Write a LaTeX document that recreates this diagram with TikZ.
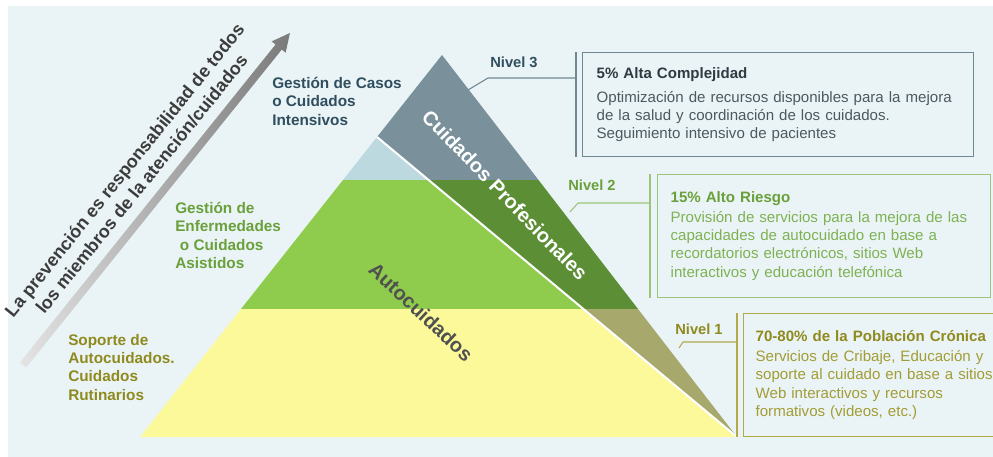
\documentclass[tikz,border=0pt]{standalone}
\usepackage{fontspec}
\setmainfont{Liberation Sans}
\usetikzlibrary{calc}

\definecolor{fondo}{HTML}{EAF4F7}
\definecolor{celeste}{HTML}{BCD9E0}
\definecolor{grisnivel}{HTML}{7A919B}
\definecolor{verdeclaro}{HTML}{8FCB4C}
\definecolor{verdeoscuro}{HTML}{5C8F35}
\definecolor{amarillo}{HTML}{FBF99A}
\definecolor{oliva}{HTML}{A7A86C}
\definecolor{tinta3}{HTML}{2E3B42}
\definecolor{texto3}{HTML}{4B5A60}
\definecolor{borde3}{HTML}{6E8791}
\definecolor{tinta2}{HTML}{6AA03A}
\definecolor{texto2}{HTML}{7FB152}
\definecolor{borde2}{HTML}{9CC47A}
\definecolor{tinta1}{HTML}{8F8A1E}
\definecolor{texto1}{HTML}{A29C34}
\definecolor{borde1}{HTML}{B0AA48}
\definecolor{casos}{HTML}{2F4E5E}
\definecolor{flechaclara}{HTML}{E4E4E4}
\definecolor{flechaoscura}{HTML}{7A7A7A}
\definecolor{lema}{HTML}{3C3C3C}

\begin{document}
\begin{tikzpicture}[
  x=0.75pt, y=-0.75pt,
  rotulo/.style={font=\bfseries\fontsize{11.5}{13.7}\selectfont, align=left, anchor=north west, inner sep=0pt},
  nivel/.style={font=\bfseries\fontsize{11}{13}\selectfont, inner sep=0pt},
  caja/.style={draw, line width=1pt, align=left, anchor=north west, inner ysep=0pt, font=\fontsize{11.3}{13.7}\selectfont},
  guia/.style={line width=0.8pt},
  barra/.style={line width=1.1pt}
]
  \useasboundingbox (0,0) rectangle (993,457);
  \fill[white] (0,0) rectangle (993,457);
  \fill[fondo] (8,6) rectangle (993,457);

  \coordinate (cima) at (442,55);
  \coordinate (izq) at (140,437);
  \coordinate (der) at (737,437);
  \coordinate (pico) at (377,137);
  \coordinate (a1) at (343,180);
  \coordinate (a2) at (428,180);
  \coordinate (a3) at (538.5,180);
  \coordinate (b1) at (241,309);
  \coordinate (b2) at (583,309);
  \coordinate (b3) at (638,309);

  \fill[celeste] (pico) -- (a1) -- (a2) -- cycle;
  \fill[grisnivel] (cima) -- (pico) -- (a2) -- (a3) -- cycle;
  \fill[verdeclaro] (a1) -- (b1) -- (b2) -- (a2) -- cycle;
  \fill[verdeoscuro] (a2) -- (b2) -- (b3) -- (a3) -- cycle;
  \fill[amarillo] (b1) -- (izq) -- (der) -- (b2) -- cycle;
  \fill[oliva] (b2) -- (der) -- (b3) -- cycle;
  \draw[white, line width=1.5pt] (pico) -- (der);

  \node[
    font=\bfseries\fontsize{15}{18}\selectfont,
    text=white,
    rotate=-46
  ] (profesionales) at (505,195) {Cuidados Profesionales};
  \node[
    font=\bfseries\fontsize{15}{18}\selectfont,
    text=lema!90,
    rotate=-43
  ] (autocuidados) at (421,312) {Autocuidados};

  \begin{scope}[shift={(23,365)}, rotate=51.2]
    \shade[
      left color=flechaclara,
      right color=flechaoscura
    ] (0,-4) -- (408,-4) -- (408,-9) -- (426,0) -- (408,9) -- (408,4) -- (0,4) -- cycle;
  \end{scope}
  \node[
    font=\bfseries\fontsize{13.5}{16.5}\selectfont,
    text=lema,
    align=center,
    rotate=51.2
  ] (lema) at (133,177) {La prevención es responsabilidad de todos\\los miembros de la atención/cuidados};

  \node[rotulo, text=casos] (casos) at (272,77) {Gestión de Casos\\o Cuidados\\Intensivos};
  \node[rotulo, text=tinta2] (enfermedades) at (175,202) {Gestión de\\Enfermedades\\\hspace{3.5pt}o Cuidados\\Asistidos};
  \node[rotulo, text=tinta1] (soporte) at (68,334) {Soporte de\\Autocuidados.\\Cuidados\\Rutinarios};

  \node[
    caja,
    draw=borde3,
    text=texto3,
    inner xsep=10.5pt,
    text width=272.25pt,
    minimum height=78pt
  ] (caja3) at (582,52) {{\color{tinta3}\bfseries 5\% Alta Complejidad}\\[4pt]
    Optimización de recursos disponibles para la mejora\\
    de la salud y coordinación de los cuidados.\\
    Seguimiento intensivo de pacientes};
  \node[
    caja,
    draw=borde2,
    text=texto2,
    inner xsep=9.75pt,
    text width=230.25pt,
    minimum height=92.25pt
  ] (caja2) at (657,174) {{\color{tinta2}\bfseries 15\% Alto Riesgo}\\[1pt]
    Provisión de servicios para la mejora de las\\
    capacidades de autocuidado en base a\\
    recordatorios electrónicos, sitios Web\\
    interactivos y educación telefónica};
  \node[
    caja,
    draw=borde1,
    text=texto1,
    inner xsep=9pt,
    text width=190pt,
    minimum height=92.25pt
  ] (caja1) at (743,313) {{\color{tinta1}\bfseries 70-80\% de la Población Crónica}\\[1pt]
    Servicios de Cribaje, Educación y\\
    soporte al cuidado en base a sitios\\
    Web interactivos y recursos\\
    formativos (videos, etc.)};

  \draw[barra, borde3] ($(caja3.north west)+(-6,0)$) -- ($(caja3.south west)+(-6,0)$);
  \draw[barra, borde2] ($(caja2.north west)+(-7,0)$) -- ($(caja2.south west)+(-7,0)$);
  \draw[barra, borde1] ($(caja1.north west)+(-6,0)$) -- ($(caja1.south west)+(-6,0)$);

  \node[nivel, text=casos] (n3) at (514,62) {Nivel 3};
  \node[nivel, text=tinta2] (n2) at (592,185) {Nivel 2};
  \node[nivel, text=tinta1] (n1) at (699,329) {Nivel 1};

  \coordinate (g3) at (468,90);
  \coordinate (e3) at (576,78);
  \coordinate (g2) at (570,212);
  \coordinate (e2) at (650,203);
  \coordinate (g1) at (679,348);
  \coordinate (e1) at (737,342);
  \draw[guia, borde3] (g3) -- (488,78) -- (e3);
  \draw[guia, borde2] (g2) -- (578,203) -- (e2);
  \draw[guia, borde1] (g1) -- (683,342) -- (e1);
\end{tikzpicture}
\end{document}
